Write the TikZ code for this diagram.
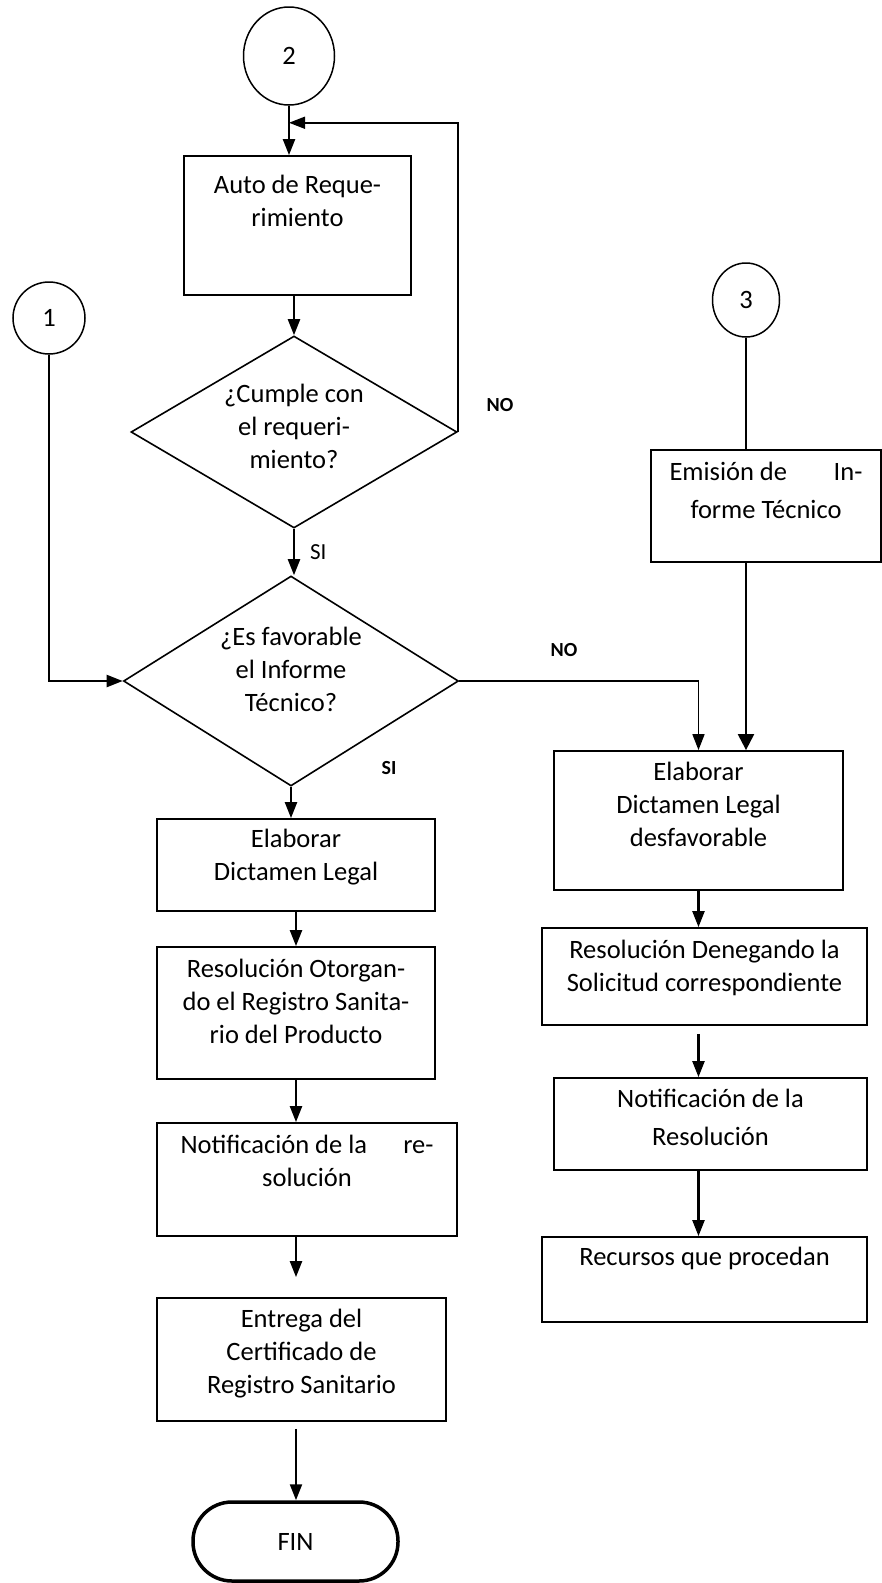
\documentclass[tikz,border=0pt]{standalone}
\usepackage{fontspec}
\setmainfont{Carlito}
\usetikzlibrary{positioning,arrows.meta,shapes.geometric,calc}
\newcommand{\txtfont}{\fontsize{26.5}{33}\selectfont}
\newcommand{\boxtxt}[4]{\parbox[c][#2pt][t]{#1pt}{\centering\rule{0pt}{#3pt}#4}}
\tikzset{
    base/.style={font=\txtfont, align=center},
    proc/.style={base, rectangle, draw, line width=1.8pt, inner sep=0pt},
    decision/.style={base, diamond, draw, line width=1.6pt, inner sep=0pt, aspect=1.7},
    connector/.style={base, ellipse, draw, line width=1.5pt, inner sep=0pt},
    terminal/.style={base, rectangle, rounded corners=39pt, draw, line width=3.5pt},
    flow/.style={-{Triangle[length=16pt,width=12pt]}, line width=2.2pt},
    wire/.style={line width=1.6pt},
    answer/.style={font=\fontsize{20}{24}\selectfont\bfseries, inner sep=0pt},
    plain/.style={font=\fontsize{23}{28}\selectfont, inner sep=0pt}
}
\begin{document}
\begin{tikzpicture}[x=1pt, y=-1pt]
  \fill[white] (0,0) rectangle (881,1583);

  % off-page connectors
  \node[connector, minimum width=91pt, minimum height=98pt] (c2) at (289,56) {2};
  \node[connector, minimum width=72pt, minimum height=72pt] (c1) at (49,318) {1};
  \node[connector, minimum width=67pt, minimum height=74pt] (c3) at (746,300) {3};

  % left column
  \node[proc] (auto) at (297.5,225.5) {\boxtxt{227}{139}{37}{Auto de Reque-\\rimiento}};
  \node[decision, minimum width=326pt, minimum height=192pt] (cumple) at (294,432)
    {¿Cumple con\\el requeri-\\miento?\rule[-11pt]{0pt}{0pt}};
  \node[decision, minimum width=335pt, minimum height=210pt] (favor) at (291,681)
    {¿Es favorable\\el Informe\\Técnico?\rule[-23pt]{0pt}{0pt}};
  \node[proc] (legal) at (296,865) {\boxtxt{278}{92}{28}{Elaborar\\Dictamen Legal}};
  \node[proc] (otorga) at (296,1013) {\boxtxt{278}{132}{30}{Resolución Otorgan-\\do el Registro Sanita-\\rio del Producto}};
  \node[proc] (notif) at (307,1179.5) {\boxtxt{300}{113}{30}{\makebox[253pt]{Notificación de la\hfill re-}\\solución}};
  \node[proc] (entrega) at (301.5,1359.5) {\boxtxt{289}{123}{29}{Entrega del\\Certificado de\\Registro Sanitario}};
  \node[terminal, minimum width=205pt, minimum height=79pt] (fin) at (295.5,1541.5) {FIN};

  % right column
  \node[proc] (emision) at (766,506) {\boxtxt{230}{112}{30}{\makebox[193pt]{Emisión de\hfill In-}\\[5pt]forme Técnico}};
  \node[proc] (desfav) at (698.5,820.5) {\boxtxt{289}{139}{29}{Elaborar\\Dictamen Legal\\desfavorable}};
  \node[proc] (deniega) at (704.5,976.5) {\boxtxt{325}{97}{30}{Resolución Denegando la\\Solicitud correspondiente}};
  \node[proc] (notifr) at (710.5,1124) {\boxtxt{313}{92}{29}{Notificación de la\\[5pt]Resolución}};
  \node[proc] (recursos) at (704.5,1279.5) {\boxtxt{325}{85}{28}{Recursos que procedan}};

  % flow
  \coordinate (loop) at ([yshift=-17pt]c2.south);
  \draw[flow] (c2.south) -- (c2.south |- auto.north);
  \draw[flow, line width=1.6pt] (cumple.east) |- (loop);
  \node[answer] (noloop) at (500,405) {NO};
  \draw[flow] (cumple.north |- auto.south) -- (cumple.north);
  \draw[flow] (cumple.south) -- node[plain, right=15pt] (siloop) {SI} (cumple.south |- favor.north);
  \draw[flow] (c1.south) |- (favor.west);
  \draw[flow] (favor.south) -- (favor.south |- legal.north);
  \node[answer] (si) at (389,768) {SI};
  \draw[flow, line width=1.7pt] (favor.east) -| (desfav.north);
  \node[answer] (no) at (564,650) {NO};
  \draw[wire] (c3.south) -- (c3.south |- emision.north);
  \draw[flow, -{Triangle[length=16pt,width=16pt]}] (c3.south |- emision.south) -- (c3.south |- desfav.north);

  \draw[flow] (legal.south) -- (legal.south |- otorga.north);
  \draw[flow] (otorga.south) -- (otorga.south |- notif.north);
  \draw[flow, shorten >=20pt] (legal.south |- notif.south) -- (legal.south |- entrega.north);
  \draw[flow, shorten <=7pt] (legal.south |- entrega.south) -- (legal.south |- fin.north);

  \draw[flow] (desfav.south) -- (desfav.south |- deniega.north);
  \draw[flow, shorten <=8pt] (desfav.south |- deniega.south) -- (desfav.south |- notifr.north);
  \draw[flow] (desfav.south |- notifr.south) -- (desfav.south |- recursos.north);
\end{tikzpicture}
\end{document}
